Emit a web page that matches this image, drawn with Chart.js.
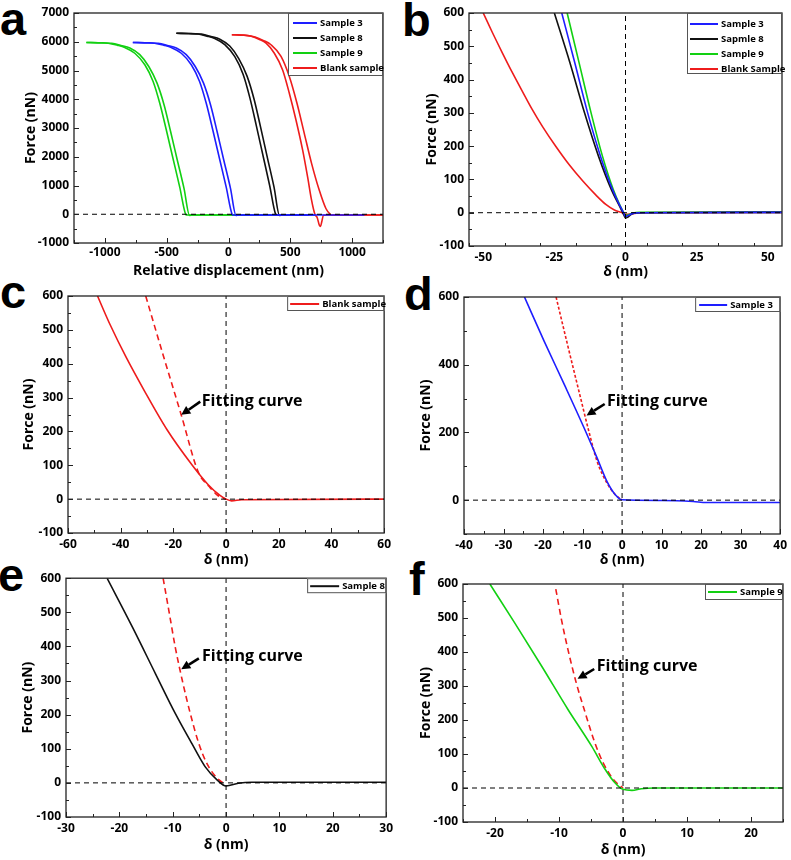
<!DOCTYPE html>
<html>
<head>
<meta charset="utf-8">
<script src="https://cdn.jsdelivr.net/npm/chart.js@4.4.0/dist/chart.umd.min.js"></script>
<style>
  body { margin: 0; background: #fff; width: 791px; height: 860px; position: relative; overflow: hidden; }
  canvas { position: absolute; }
  .tag { position: absolute; font: bold 47px "Liberation Sans", Arial, sans-serif; line-height: 1; color: #000; }
</style>
</head>
<body>
<div class="tag" style="left:0px;top:-5px">a</div>
<div class="tag" style="left:402px;top:-4px">b</div>
<div class="tag" style="left:0px;top:268px">c</div>
<div class="tag" style="left:404px;top:270px">d</div>
<div class="tag" style="left:-2px;top:551px">e</div>
<div class="tag" style="left:409px;top:555px">f</div>

<canvas id="pa" width="395" height="285" style="left:0;top:0"></canvas>
<canvas id="pb" width="396" height="285" style="left:395px;top:0"></canvas>
<canvas id="pc" width="395" height="287" style="left:0;top:283px"></canvas>
<canvas id="pd" width="396" height="286" style="left:395px;top:284px"></canvas>
<canvas id="pe" width="397" height="294" style="left:0;top:566px"></canvas>
<canvas id="pf" width="396" height="290" style="left:395px;top:570px"></canvas>

<script>
// ---------- data (x in nm, y in nN) ----------

// panel a: force vs relative displacement, two branches per sample
const aSample3In  = [[-774,5975],[-674,5965],[-597,5950],[-524,5880],[-463,5800],[-382,5600],[-301,5200],[-234,4620],[-180,3860],[-127,2930],[-73,1940],[-19,950],[29,0],[36,-25],[1100,-25]];
const aSample3Out = [[-774,5975],[-644,5960],[-570,5945],[-494,5870],[-422,5780],[-342,5550],[-269,5140],[-202,4560],[-145,3800],[-92,2870],[-38,1880],[16,900],[61,-40],[76,-25],[700,-25]];
const aSample8In  = [[-422,6295],[-322,6285],[-245,6270],[-172,6195],[-111,6110],[-30,5900],[51,5480],[118,4870],[172,4065],[225,3085],[279,2045],[333,1000],[381,0],[388,-25],[560,-25]];
const aSample8Out = [[-422,6295],[-292,6280],[-218,6265],[-142,6185],[-70,6090],[10,5850],[83,5415],[150,4805],[207,4000],[260,3020],[314,1980],[368,950],[413,-40],[428,-25],[650,-25]];
const aSample9In  = [[-1150,5975],[-1050,5965],[-973,5950],[-900,5880],[-839,5800],[-758,5600],[-677,5200],[-610,4620],[-556,3860],[-503,2930],[-449,1940],[-395,950],[-347,0],[-340,-25],[600,-25]];
const aSample9Out = [[-1150,5975],[-1020,5960],[-946,5945],[-870,5870],[-798,5780],[-718,5550],[-645,5140],[-578,4560],[-521,3800],[-468,2870],[-414,1880],[-360,900],[-315,-40],[-300,-25],[100,-25]];
const aBlankIn    = [[27,6245],[120,6230],[183,6190],[250,6080],[304,5950],[371,5600],[438,5020],[492,4210],[546,3280],[600,2230],[640,1300],[672,490],[699,0],[718,-120],[735,-380],[745,-420],[755,-250],[768,-40],[790,-25],[1250,-25]];
const aBlankOut   = [[27,6245],[130,6225],[215,6165],[285,6040],[344,5895],[425,5490],[492,4790],[554,3860],[613,2815],[672,1770],[734,840],[788,200],[823,0],[840,-25],[1250,-25]];

// panel b: force vs indentation for all samples
const bSample3 = [[-22.4,600],[-17.8,450],[-13.3,300],[-8.8,170],[-4.6,70],[-1.8,18],[-0.4,-5],[0,-12],[1,-8],[2.6,-2],[5,0],[55,1]];
const bSample8 = [[-25,600],[-19.5,450],[-14.4,300],[-9.5,170],[-5,70],[-2,18],[-0.5,-8],[0,-16],[1,-12],[2.6,-2],[5,0],[55,1]];
const bSample9 = [[-20.5,600],[-16.3,450],[-12.1,300],[-8.1,170],[-4.3,70],[-1.7,18],[-0.4,-3],[0,-8],[1,-6],[2.6,-1],[5,1],[55,2]];
const bBlank   = [[-50,600],[-46.7,540],[-43.2,479],[-39.7,420],[-36.2,364],[-32.9,312],[-29.1,258],[-24.4,198],[-19.7,143],[-15,95],[-10.3,52],[-6.8,24],[-3.9,8],[-1.5,1],[0,-5],[2.6,-3],[6,0],[55,1]];

// panels c-f: single sample with fitting curve
const cBlank = [[-48.8,600],[-44,515],[-38,420],[-31,320],[-22.4,205],[-12.9,101],[-6.7,42],[-2.3,11],[0,0],[2.1,-5],[5.9,-2],[60,0]];
const cFit   = [[-30.5,600],[-23.9,426],[-17.1,251],[-10.4,77],[-6.5,38],[-3,10],[0,0]];
const dSample3 = [[-24.7,600],[-19.7,469],[-14.6,341],[-9.6,213],[-6.3,124],[-3.8,55],[-1.7,16],[0,1],[10,-1],[18,-4],[21.3,-7],[40,-7]];
const dFit     = [[-16.7,600],[-13.8,459],[-10.9,321],[-8.4,203],[-6.3,114],[-3.8,50],[-1.7,16],[0,1]];
const eSample8 = [[-22.3,600],[-17.5,455],[-13.2,319],[-9.5,203],[-6.4,115],[-3.9,47],[-1.7,9],[0,-9],[2.3,-1],[4.8,2],[30,2]];
const eFit     = [[-11.8,600],[-10.7,503],[-9.5,396],[-8.2,300],[-6.7,203],[-5.1,115],[-3.6,57],[-1.7,14],[0,-6]];
const fSample9 = [[-20.8,600],[-16.9,485],[-12.7,358],[-8.6,231],[-4.9,123],[-2.8,55],[-1.3,16],[0,-4],[1.4,-7],[2.9,-2],[5,0],[25,0]];
const fFit     = [[-10.5,585],[-9.6,494],[-8.6,407],[-7.3,309],[-5.9,221],[-4.4,133],[-3.1,74],[-1.5,25],[0,0]];

// tick labels
const aXTicks = [-1000,-500,0,500,1000];
const aYTicks = [-1000,0,1000,2000,3000,4000,5000,6000,7000];
const bXTicks = [-50,-25,0,25,50];
const cXTicks = [-60,-40,-20,0,20,40,60];
const dXTicks = [-40,-30,-20,-10,0,10,20,30,40];
const dYTicks = [0,200,400,600];
const eXTicks = [-30,-20,-10,0,10,20,30];
const fXTicks = [-20,-10,0,10,20];
const forceTicks = [-100,0,100,200,300,400,500,600];

const BLUE = '#1e1eff', BLACK = '#111111', GREEN = '#12d012', RED = '#ee1c1c';
const FONT = '"Open Sans", sans-serif';

function pts(pairs) { return pairs.map(p => ({ x: p[0], y: p[1] })); }

function curve(label, pairs, color, dash) {
  return { label: label, data: pts(pairs), showLine: true, borderColor: color, borderWidth: 1.6,
           borderDash: dash || [], pointRadius: 0, cubicInterpolationMode: 'monotone', fill: false };
}
function refLine(pairs) {
  return { label: '', data: pts(pairs), showLine: true, borderColor: '#000', borderWidth: 1,
           borderDash: [5, 4], pointRadius: 0, fill: false };
}

// frame, inward ticks, legend box and arrow note
const extras = {
  id: 'extras',
  afterDraw(chart, args, o) {
    const ctx = chart.ctx, a = chart.chartArea;
    const xs = chart.scales.x, ys = chart.scales.y;
    ctx.save();
    ctx.strokeStyle = '#222';
    ctx.lineWidth = 1.3;
    ctx.strokeRect(a.left, a.top, a.right - a.left, a.bottom - a.top);
    ctx.lineWidth = 1;
    function ticks(scale, step, major, horiz) {
      for (let v = scale.min; v <= scale.max + 1e-9; v += step) {
        const isMajor = Math.abs(v / major - Math.round(v / major)) < 1e-6;
        const len = isMajor ? 5 : 3;
        const p = Math.round(scale.getPixelForValue(v)) + 0.5;
        ctx.beginPath();
        if (horiz) { ctx.moveTo(p, a.bottom); ctx.lineTo(p, a.bottom - len); }
        else { ctx.moveTo(a.left, p); ctx.lineTo(a.left + len, p); }
        ctx.stroke();
      }
    }
    ticks(xs, o.xMinor, o.xMajor, true);
    ticks(ys, o.yMinor, o.yMajor, false);

    // legend
    const lg = o.legend;
    const bx = a.right - lg.w, by = a.top;
    const bh = lg.top + (lg.items.length - 1) * lg.row + lg.bottom;
    ctx.fillStyle = '#fff';
    ctx.fillRect(bx, by, lg.w, bh);
    ctx.strokeStyle = '#555';
    ctx.lineWidth = 1;
    ctx.strokeRect(bx + 0.5, by + 0.5, lg.w - 1, bh - 1);
    ctx.font = 'bold ' + lg.font + 'px ' + FONT;
    ctx.textBaseline = 'middle';
    ctx.textAlign = 'left';
    lg.items.forEach((i, k) => {
      const ds = chart.data.datasets[i];
      const y = by + lg.top + k * lg.row;
      ctx.strokeStyle = ds.borderColor;
      ctx.lineWidth = 2;
      ctx.beginPath();
      ctx.moveTo(bx + lg.x0, y); ctx.lineTo(bx + lg.x0 + lg.len, y);
      ctx.stroke();
      ctx.fillStyle = '#000';
      ctx.fillText(ds.label, bx + lg.x0 + lg.len + 3, y + 0.5);
    });

    // "Fitting curve" note with arrow
    if (o.note) {
      const n = o.note;
      const tx = xs.getPixelForValue(n.at[0]), ty = ys.getPixelForValue(n.at[1]);
      ctx.font = 'bold 16px ' + FONT;
      ctx.fillStyle = '#000';
      ctx.textBaseline = 'middle';
      ctx.fillText(n.text, tx, ty);
      const x1 = xs.getPixelForValue(n.tail[0]), y1 = ys.getPixelForValue(n.tail[1]);
      const x2 = xs.getPixelForValue(n.tip[0]), y2 = ys.getPixelForValue(n.tip[1]);
      const ang = Math.atan2(y2 - y1, x2 - x1);
      const hl = 9, hw = 4.5;
      const bxp = x2 - hl * Math.cos(ang), byp = y2 - hl * Math.sin(ang);
      ctx.strokeStyle = '#000';
      ctx.lineWidth = 2.6;
      ctx.beginPath(); ctx.moveTo(x1, y1); ctx.lineTo(bxp, byp); ctx.stroke();
      ctx.beginPath();
      ctx.moveTo(x2, y2);
      ctx.lineTo(bxp + hw * Math.sin(ang), byp - hw * Math.cos(ang));
      ctx.lineTo(bxp - hw * Math.sin(ang), byp + hw * Math.cos(ang));
      ctx.closePath(); ctx.fill();
    }
    ctx.restore();
  }
};

function panel(id, p) {
  const tickFont = { family: FONT, size: 12, weight: 'bold' };
  const titleFont = { family: FONT, size: 14, weight: 'bold' };
  const plain = v => String(v);
  return new Chart(document.getElementById(id), {
    type: 'scatter',
    data: { datasets: p.datasets },
    options: {
      animation: false, responsive: false, devicePixelRatio: 1,
      layout: { padding: { top: p.padTop, right: p.padRight, left: 0, bottom: 0 } },
      plugins: { legend: { display: false }, tooltip: { enabled: false }, extras: p.extras },
      scales: {
        x: {
          type: 'linear', min: p.xMin, max: p.xMax,
          afterBuildTicks: s => { s.ticks = p.xTicks.map(v => ({ value: v })); },
          afterFit: s => { s.height = p.xh; },
          grid: { display: false, drawTicks: false }, border: { display: false },
          ticks: { font: tickFont, color: '#000', padding: p.xPad, maxRotation: 0, autoSkip: false, callback: plain },
          title: { display: true, text: p.xTitle, font: titleFont, color: '#000', padding: { top: 0, bottom: p.xTitlePad } }
        },
        y: {
          type: 'linear', min: p.yMin, max: p.yMax,
          afterBuildTicks: s => { s.ticks = p.yTicks.map(v => ({ value: v })); },
          afterFit: s => { s.width = p.yw; },
          grid: { display: false, drawTicks: false }, border: { display: false },
          ticks: { font: tickFont, color: '#000', padding: 5, autoSkip: false, callback: plain },
          title: { display: true, text: 'Force (nN)', font: titleFont, color: '#000', padding: { top: p.yTitlePad, bottom: 0 } }
        }
      }
    },
    plugins: [extras]
  });
}

// panel a
panel('pa', {
  datasets: [
    refLine([[-1250, 0], [1250, 0]]),
    curve('Sample 3', aSample3In, BLUE), curve('Sample 3', aSample3Out, BLUE),
    curve('Sample 8', aSample8In, BLACK), curve('Sample 8', aSample8Out, BLACK),
    curve('Sample 9', aSample9In, GREEN), curve('Sample 9', aSample9Out, GREEN),
    curve('Blank sample', aBlankIn, RED), curve('Blank sample', aBlankOut, RED)
  ],
  xMin: -1250, xMax: 1250, yMin: -1000, yMax: 7000, xTicks: aXTicks, yTicks: aYTicks,
  padTop: 13, padRight: 12, yw: 74, xh: 42, xPad: 2, xTitlePad: 5.6, yTitlePad: 22.6,
  xTitle: 'Relative displacement (nm)',
  extras: { xMinor: 250, xMajor: 500, yMinor: 500, yMajor: 1000,
            legend: { items: [1, 3, 5, 7], w: 95, top: 10, row: 15, bottom: 8, x0: 5, len: 24, font: 9.5 } }
});

// panel b
panel('pb', {
  datasets: [
    refLine([[-55, 0], [55, 0]]), refLine([[0, -100], [0, 600]]),
    curve('Sample 3', bSample3, BLUE), curve('Sapmle 8', bSample8, BLACK),
    curve('Sample 9', bSample9, GREEN), curve('Blank Sample', bBlank, RED)
  ],
  xMin: -55, xMax: 55, yMin: -100, yMax: 600, xTicks: bXTicks, yTicks: forceTicks,
  padTop: 13, padRight: 9, yw: 74, xh: 39, xPad: 4, xTitlePad: 4.6, yTitlePad: 28.6,
  xTitle: 'δ (nm)',
  extras: { xMinor: 12.5, xMajor: 25, yMinor: 50, yMajor: 100,
            legend: { items: [2, 3, 4, 5], w: 95, top: 11, row: 15, bottom: 5, x0: 3, len: 28, font: 9.5 } }
});

// panel c
panel('pc', {
  datasets: [
    refLine([[-60, 0], [60, 0]]), refLine([[0, -100], [0, 600]]),
    curve('Blank sample', cBlank, RED), curve('Fit', cFit, RED, [6, 4])
  ],
  xMin: -60, xMax: 60, yMin: -100, yMax: 600, xTicks: cXTicks, yTicks: forceTicks,
  padTop: 13, padRight: 8, yw: 68, xh: 37, xPad: 4, xTitlePad: 1.6, yTitlePad: 20.6,
  xTitle: 'δ (nm)',
  extras: { xMinor: 10, xMajor: 20, yMinor: 50, yMajor: 100,
            legend: { items: [2], w: 97, top: 8, row: 15, bottom: 7, x0: 3, len: 29, font: 9.5 },
            note: { text: 'Fitting curve', at: [-9.2, 290], tail: [-9.8, 288], tip: [-17.0, 249] } }
});

// panel d
panel('pd', {
  datasets: [
    refLine([[-40, 0], [40, 0]]), refLine([[0, -100], [0, 600]]),
    curve('Sample 3', dSample3, BLUE), curve('Fit', dFit, RED, [3, 2])
  ],
  xMin: -40, xMax: 40, yMin: -100, yMax: 600, xTicks: dXTicks, yTicks: dYTicks,
  padTop: 13, padRight: 8, yw: 69, xh: 36, xPad: 4, xTitlePad: 1.6, yTitlePad: 22.6,
  xTitle: 'δ (nm)',
  extras: { xMinor: 5, xMajor: 10, yMinor: 100, yMajor: 200,
            legend: { items: [2], w: 85, top: 8, row: 15, bottom: 7, x0: 4, len: 28, font: 9.5 },
            note: { text: 'Fitting curve', at: [-3.8, 292], tail: [-4.4, 284], tip: [-9.0, 250] } }
});

// panel e
panel('pe', {
  datasets: [
    refLine([[-30, 0], [30, 0]]), refLine([[0, -100], [0, 600]]),
    curve('Sample 8', eSample8, BLACK), curve('Fit', eFit, RED, [6, 4])
  ],
  xMin: -30, xMax: 30, yMin: -100, yMax: 600, xTicks: eXTicks, yTicks: forceTicks,
  padTop: 11, padRight: 8, yw: 66, xh: 43, xPad: 4, xTitlePad: 6.6, yTitlePad: 19.6,
  xTitle: 'δ (nm)',
  extras: { xMinor: 5, xMajor: 10, yMinor: 50, yMajor: 100,
            legend: { items: [2], w: 79, top: 8, row: 15, bottom: 7, x0: 3, len: 29, font: 9.5 },
            note: { text: 'Fitting curve', at: [-4.5, 372], tail: [-5.1, 365], tip: [-8.4, 333] } }
});

// panel f
panel('pf', {
  datasets: [
    refLine([[-25, 0], [25, 0]]), refLine([[0, -100], [0, 600]]),
    curve('Sample 9', fSample9, GREEN), curve('Fit', fFit, RED, [6, 4])
  ],
  xMin: -25, xMax: 25, yMin: -100, yMax: 600, xTicks: fXTicks, yTicks: forceTicks,
  padTop: 14, padRight: 8, yw: 68, xh: 38, xPad: 4, xTitlePad: 1.6, yTitlePad: 22.6,
  xTitle: 'δ (nm)',
  extras: { xMinor: 5, xMajor: 10, yMinor: 50, yMajor: 100,
            legend: { items: [2], w: 78, top: 8, row: 15, bottom: 8, x0: 3, len: 29, font: 9.5 },
            note: { text: 'Fitting curve', at: [-4.1, 358], tail: [-4.5, 350], tip: [-7.1, 321] } }
});
</script>
</body>
</html>
